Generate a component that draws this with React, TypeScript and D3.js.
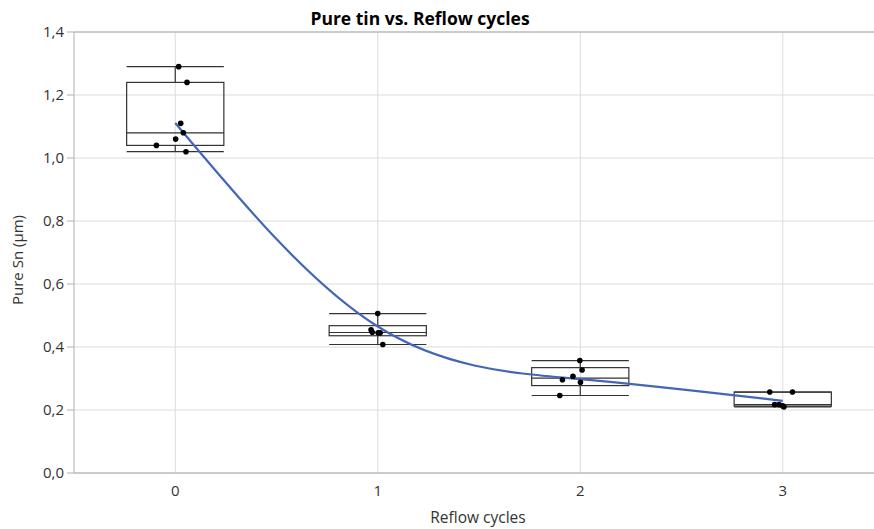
import React, { useEffect } from 'react';
import * as d3 from 'd3';

// reflow cycles on the x axis
const cycles = [0, 1, 2, 3];

// measured pure Sn thickness (µm) per cycle
const cycle0 = [1.29, 1.24, 1.11, 1.08, 1.06, 1.04, 1.02];
const cycle1 = [0.506, 0.455, 0.447, 0.445, 0.445, 0.408];
const cycle2 = [0.357, 0.327, 0.307, 0.296, 0.288, 0.246];
const cycle3 = [0.257, 0.257, 0.217, 0.217, 0.213, 0.21];

// horizontal jitter of each point (in cycle units)
const jitter0 = [0.017, 0.058, 0.027, 0.04, 0.002, -0.093, 0.053];
const jitter1 = [0, -0.033, -0.027, 0.002, 0.012, 0.025];
const jitter2 = [-0.002, 0.009, -0.036, -0.088, 0.001, -0.101];
const jitter3 = [-0.064, 0.048, -0.04, -0.018, 0, 0.006];

// smoother line values at each cycle
const fitValues = [1.111, 0.465, 0.298, 0.229];

const yTicks = [0, 0.2, 0.4, 0.6, 0.8, 1.0, 1.2, 1.4];

const groups = [cycle0, cycle1, cycle2, cycle3];
const jitters = [jitter0, jitter1, jitter2, jitter3];

const width = 874;
const height = 529;
const margin = { top: 32, right: -10, bottom: 56, left: 74 };
const font = "'Open Sans', 'Noto Sans', sans-serif";

// Minitab style quartile: position p*(n+1)
function quart(sorted: number[], p: number) {
  const pos = p * (sorted.length + 1) - 1;
  const lo = Math.floor(pos);
  const hi = Math.min(lo + 1, sorted.length - 1);
  return sorted[lo] + (pos - lo) * (sorted[hi] - sorted[lo]);
}

function App() {
  useEffect(() => {
    document.body.style.margin = '0';
  }, []);

  const x = d3.scaleLinear().domain([-0.5, 3.5]).range([margin.left, width - margin.right]);
  const y = d3.scaleLinear().domain([0, 1.4]).range([height - margin.bottom, margin.top]);
  const fmt = (v: number) => d3.format('.1f')(v).replace('.', ',');
  const halfBox = 0.24;

  const line = d3.line<number>()
    .x((_, i) => x(cycles[i]))
    .y((d) => y(d))
    .curve(d3.curveNatural);

  const x0 = margin.left;
  const x1 = width;
  const yb = y(0);

  return (
    <svg width={width} height={height} style={{ display: 'block', background: '#fff' }} fontFamily={font}>
      {/* grid */}
      {yTicks.map((t) => (
        <line key={'gy' + t} x1={x0} x2={x1} y1={y(t)} y2={y(t)} stroke="#dcdcdc" strokeWidth={1} />
      ))}
      {cycles.map((c) => (
        <line key={'gx' + c} x1={x(c)} x2={x(c)} y1={margin.top} y2={yb} stroke="#dcdcdc" strokeWidth={1} />
      ))}
      {/* frame */}
      <line x1={x0} x2={x1} y1={margin.top} y2={margin.top} stroke="#a8a8a8" strokeWidth={1} />
      <line x1={x0} x2={x1} y1={yb} y2={yb} stroke="#c0c0c0" strokeWidth={1.5} />
      <line x1={x0} x2={x0} y1={margin.top} y2={yb} stroke="#b0b0b0" strokeWidth={1} />

      {/* y ticks */}
      {yTicks.map((t) => (
        <g key={'ty' + t}>
          <line x1={x0 - 7} x2={x0} y1={y(t)} y2={y(t)} stroke="#b0b0b0" />
          <text x={x0 - 10} y={y(t)} dy="0.35em" textAnchor="end" fontSize={15} fill="#333">{fmt(t)}</text>
        </g>
      ))}
      {/* x ticks */}
      {cycles.map((c) => (
        <text key={'tx' + c} x={x(c)} y={yb + 23} textAnchor="middle" fontSize={15} fill="#333">{c}</text>
      ))}

      {/* boxes */}
      {groups.map((g, gi) => {
        const s = g.slice().sort(d3.ascending);
        const q1 = quart(s, 0.25);
        const q3 = quart(s, 0.75);
        const med = d3.median(s) as number;
        const lo = s[0];
        const hi = s[s.length - 1];
        const c = cycles[gi];
        const bl = x(c - halfBox);
        const br = x(c + halfBox);
        return (
          <g key={'box' + gi} stroke="#333" strokeWidth={1.2} fill="none">
            <line x1={x(c)} x2={x(c)} y1={y(hi)} y2={y(q3)} />
            <line x1={x(c)} x2={x(c)} y1={y(q1)} y2={y(lo)} />
            <line x1={bl} x2={br} y1={y(hi)} y2={y(hi)} />
            <line x1={bl} x2={br} y1={y(lo)} y2={y(lo)} />
            <rect x={bl} y={y(q3)} width={br - bl} height={y(q1) - y(q3)} />
            <line x1={bl} x2={br} y1={y(med)} y2={y(med)} />
          </g>
        );
      })}

      {/* smoother */}
      <path d={line(fitValues) || ''} fill="none" stroke="#4466b8" strokeWidth={2.2} />

      {/* points */}
      {groups.map((g, gi) =>
        g.map((v, i) => (
          <circle key={'p' + gi + '-' + i} cx={x(cycles[gi] + jitters[gi][i])} cy={y(v)} r={2.8} fill="#000" />
        ))
      )}

      {/* titles */}
      <text x={420} y={25} textAnchor="middle" fontSize={17.5} fontWeight="bold" fill="#000">Pure tin vs. Reflow cycles</text>
      <text x={478} y={yb + 50} textAnchor="middle" fontSize={15.5} fill="#333">Reflow cycles</text>
      <text transform={`translate(23,260) rotate(-90)`} textAnchor="middle" fontSize={15} fill="#333">Pure Sn (µm)</text>
    </svg>
  );
}

export default App;
